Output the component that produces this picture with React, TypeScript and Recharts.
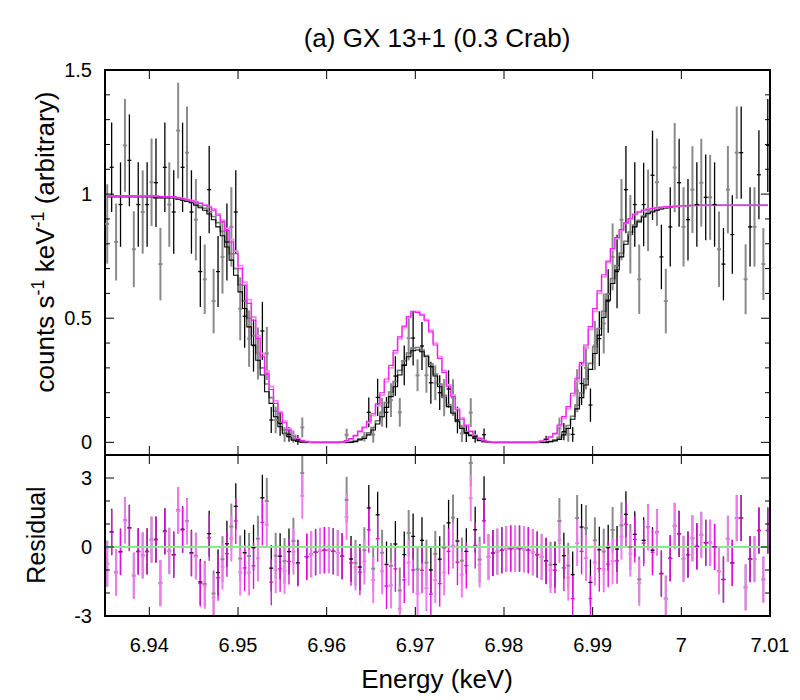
import React from 'react';
import { ComposedChart, Line, Scatter, XAxis, YAxis, ErrorBar, ReferenceLine, ReferenceArea } from 'recharts';

// ---------------- data ----------------
const energy = [
  6.93525, 6.93575, 6.93625, 6.93675, 6.93725, 6.93775, 6.93825, 6.93875, 6.93925, 6.93975,
  6.94025, 6.94075, 6.94125, 6.94175, 6.94225, 6.94275, 6.94325, 6.94375, 6.94425, 6.94475,
  6.94525, 6.94575, 6.94625, 6.94675, 6.94725, 6.94775, 6.94825, 6.94875, 6.94925, 6.94975,
  6.95025, 6.95075, 6.95125, 6.95175, 6.95225, 6.95275, 6.95325, 6.95375, 6.95425, 6.95475,
  6.95525, 6.95575, 6.95625, 6.95675, 6.95725, 6.95775, 6.95825, 6.95875, 6.95925, 6.95975,
  6.96025, 6.96075, 6.96125, 6.96175, 6.96225, 6.96275, 6.96325, 6.96375, 6.96425, 6.96475,
  6.96525, 6.96575, 6.96625, 6.96675, 6.96725, 6.96775, 6.96825, 6.96875, 6.96925, 6.96975,
  6.97025, 6.97075, 6.97125, 6.97175, 6.97225, 6.97275, 6.97325, 6.97375, 6.97425, 6.97475,
  6.97525, 6.97575, 6.97625, 6.97675, 6.97725, 6.97775, 6.97825, 6.97875, 6.97925, 6.97975,
  6.98025, 6.98075, 6.98125, 6.98175, 6.98225, 6.98275, 6.98325, 6.98375, 6.98425, 6.98475,
  6.98525, 6.98575, 6.98625, 6.98675, 6.98725, 6.98775, 6.98825, 6.98875, 6.98925, 6.98975,
  6.99025, 6.99075, 6.99125, 6.99175, 6.99225, 6.99275, 6.99325, 6.99375, 6.99425, 6.99475,
  6.99525, 6.99575, 6.99625, 6.99675, 6.99725, 6.99775, 6.99825, 6.99875, 6.99925, 6.99975,
  7.00025, 7.00075, 7.00125, 7.00175, 7.00225, 7.00275, 7.00325, 7.00375, 7.00425, 7.00475,
  7.00525, 7.00575, 7.00625, 7.00675, 7.00725, 7.00775, 7.00825, 7.00875, 7.00925, 7.00975,
];

const counts = [
  0.88, 1.108, 0.807, 0.958, 1.196, 1.136, 0.778, 0.958, 0.928, 0.958,
  1.048, 1.046, 0.718, 1.108, 0.958, 0.928, 1.256, 1.108, 1.167, 0.928,
  0.897, 0.688, 0.657, 1.018, 0.569, 0.688, 0.747, 0.807, 0.868, 0.928,
  0.538, 0.508, 0.418, 0.39, 0.358, 0.449, 0.358, 0.09, 0.09, 0.076,
  0.032, 0.032, 0.023, 0.01, 0.06, null, null, null, null, null,
  null, null, null, null, 0.03, null, null, null, 0.023, 0.121,
  0.031, 0.181, 0.121, 0.121, 0.17, 0.267, 0.121, 0.31, 0.42, 0.42,
  0.27, 0.388, 0.27, 0.24, 0.24, 0.2, 0.18, 0.215, 0.18, 0.09,
  0.036, 0.036, 0.12, 0.023, null, 0.031, null, null, null, null,
  null, null, null, null, null, null, null, null, null, 0.012,
  null, null, 0.056, 0.043, 0.032, 0.032, 0.208, 0.237, 0.3, 0.15,
  0.39, 0.418, 0.479, 0.569, 0.747, 0.688, 0.897, 1.018, 0.838, 0.958,
  0.657, 0.958, 0.935, 1.076, 1.048, 0.747, 0.569, 0.868, 1.107, 1.046,
  0.868, 0.897, 1.018, 0.958, 1.046, 0.987, 0.987, 0.958, 0.778, 0.718,
  1.018, 0.837, 1.167, 1.167, 0.657, 0.868, 0.868, 1.078, 0.718, 1.196,
];

const countErr = [
  0.16, 0.18, 0.155, 0.17, 0.187, 0.185, 0.153, 0.17, 0.168, 0.17,
  0.176, 0.178, 0.146, 0.18, 0.17, 0.168, 0.193, 0.18, 0.186, 0.168,
  0.164, 0.143, 0.14, 0.176, 0.13, 0.143, 0.148, 0.155, 0.16, 0.168,
  0.127, 0.127, 0.114, 0.105, 0.105, 0.117, 0.107, 0.052, 0.054, 0.05,
  0.03, 0.03, 0.025, 0.02, 0.04, null, null, null, null, null,
  null, null, null, null, 0.025, null, null, null, 0.02, 0.06,
  0.032, 0.075, 0.058, 0.062, 0.068, 0.08, 0.058, 0.08, 0.09, 0.11,
  0.064, 0.097, 0.07, 0.085, 0.07, 0.07, 0.075, 0.075, 0.074, 0.054,
  0.035, 0.035, 0.058, 0.025, null, 0.025, null, null, null, null,
  null, null, null, null, null, null, null, null, null, 0.015,
  null, null, 0.044, 0.035, 0.03, 0.03, 0.087, 0.087, 0.087, 0.067,
  0.099, 0.11, 0.121, 0.128, 0.135, 0.148, 0.164, 0.176, 0.158, 0.17,
  0.14, 0.168, 0.164, 0.18, 0.176, 0.13, 0.13, 0.16, 0.18, 0.177,
  0.16, 0.164, 0.175, 0.17, 0.177, 0.173, 0.171, 0.17, 0.152, 0.146,
  0.176, 0.158, 0.186, 0.186, 0.141, 0.16, 0.16, 0.179, 0.145, 0.187,
];

const modelBlack = [
  0.99, 0.99, 0.99, 0.99, 0.99, 0.99, 0.99, 0.99, 0.99, 0.99,
  0.99, 0.985, 0.985, 0.985, 0.985, 0.985, 0.98, 0.975, 0.97, 0.965,
  0.955, 0.945, 0.935, 0.92, 0.897, 0.868, 0.832, 0.787, 0.734, 0.673,
  0.606, 0.539, 0.465, 0.392, 0.331, 0.271, 0.204, 0.157, 0.103, 0.063,
  0.036, 0.023, 0.009, 0.004, 0.001, 0, 0, 0, 0, 0,
  0, 0, 0, 0, 0, 0, 0.003, 0.01, 0.016, 0.03,
  0.05, 0.074, 0.103, 0.141, 0.184, 0.224, 0.271, 0.311, 0.345, 0.369,
  0.372, 0.365, 0.345, 0.305, 0.267, 0.224, 0.181, 0.144, 0.117, 0.083,
  0.056, 0.039, 0.027, 0.016, 0.007, 0.003, 0, 0, 0, 0,
  0, 0, 0, 0, 0, 0, 0, 0, 0, 0,
  0.003, 0.006, 0.012, 0.03, 0.056, 0.093, 0.135, 0.18, 0.231, 0.294,
  0.358, 0.432, 0.503, 0.573, 0.64, 0.694, 0.747, 0.798, 0.837, 0.868,
  0.888, 0.908, 0.921, 0.928, 0.935, 0.94, 0.944, 0.947, 0.95, 0.951,
  0.952, 0.953, 0.954, 0.955, 0.955, 0.955, 0.955, 0.955, 0.955, 0.955,
  0.955, 0.955, 0.955, 0.955, 0.955, 0.955, 0.955, 0.955, 0.955, 0.955,
];

const modelGray = [
  0.99, 0.99, 0.99, 0.99, 0.99, 0.99, 0.99, 0.99, 0.99, 0.99,
  0.99, 0.987, 0.987, 0.987, 0.987, 0.987, 0.982, 0.977, 0.973, 0.968,
  0.96, 0.952, 0.943, 0.93, 0.91, 0.885, 0.85, 0.81, 0.76, 0.70,
  0.635, 0.57, 0.50, 0.43, 0.36, 0.30, 0.235, 0.18, 0.125, 0.08,
  0.05, 0.03, 0.015, 0.007, 0.002, 0, 0, 0, 0, 0,
  0, 0, 0, 0, 0, 0.003, 0.007, 0.014, 0.022, 0.038,
  0.06, 0.087, 0.12, 0.16, 0.203, 0.245, 0.29, 0.328, 0.36, 0.38,
  0.382, 0.372, 0.35, 0.315, 0.275, 0.235, 0.19, 0.152, 0.122, 0.09,
  0.062, 0.043, 0.03, 0.018, 0.009, 0.004, 0.001, 0, 0, 0,
  0, 0, 0, 0, 0, 0, 0, 0, 0, 0,
  0.004, 0.01, 0.02, 0.04, 0.068, 0.105, 0.15, 0.2, 0.255, 0.318,
  0.385, 0.458, 0.528, 0.597, 0.66, 0.712, 0.763, 0.81, 0.847, 0.875,
  0.895, 0.912, 0.924, 0.931, 0.937, 0.942, 0.945, 0.948, 0.95, 0.951,
  0.952, 0.953, 0.954, 0.955, 0.955, 0.955, 0.955, 0.955, 0.955, 0.955,
  0.955, 0.955, 0.955, 0.955, 0.955, 0.955, 0.955, 0.955, 0.955, 0.955,
];

const modelMagenta = [
  0.993, 0.993, 0.993, 0.993, 0.993, 0.993, 0.993, 0.993, 0.993, 0.993,
  0.993, 0.993, 0.99, 0.99, 0.99, 0.99, 0.985, 0.982, 0.977, 0.973,
  0.968, 0.962, 0.955, 0.948, 0.935, 0.915, 0.888, 0.854, 0.807, 0.76,
  0.70, 0.633, 0.56, 0.492, 0.418, 0.345, 0.275, 0.213, 0.157, 0.117,
  0.079, 0.05, 0.025, 0.013, 0.007, 0.003, 0.001, 0, 0, 0,
  0, 0, 0, 0.003, 0.007, 0.015, 0.028, 0.045, 0.062, 0.085,
  0.115, 0.155, 0.2, 0.255, 0.31, 0.37, 0.425, 0.468, 0.506, 0.526,
  0.523, 0.512, 0.49, 0.445, 0.392, 0.338, 0.282, 0.224, 0.184, 0.13,
  0.093, 0.066, 0.043, 0.027, 0.016, 0.007, 0.003, 0, 0, 0,
  0, 0, 0, 0, 0, 0, 0, 0.002, 0.005, 0.012,
  0.022, 0.036, 0.07, 0.104, 0.144, 0.198, 0.258, 0.321, 0.392, 0.466,
  0.539, 0.61, 0.675, 0.73, 0.781, 0.825, 0.857, 0.884, 0.901, 0.919,
  0.928, 0.935, 0.939, 0.942, 0.945, 0.947, 0.949, 0.95, 0.951, 0.952,
  0.953, 0.954, 0.955, 0.955, 0.955, 0.955, 0.955, 0.955, 0.955, 0.955,
  0.955, 0.955, 0.955, 0.955, 0.955, 0.955, 0.955, 0.955, 0.955, 0.955,
];

const modelPink = [
  0.993, 0.993, 0.993, 0.993, 0.993, 0.993, 0.993, 0.993, 0.993, 0.993,
  0.993, 0.993, 0.991, 0.99, 0.99, 0.989, 0.986, 0.983, 0.979, 0.975,
  0.97, 0.965, 0.958, 0.95, 0.94, 0.92, 0.895, 0.862, 0.818, 0.77,
  0.712, 0.645, 0.575, 0.505, 0.43, 0.358, 0.288, 0.225, 0.167, 0.124,
  0.085, 0.055, 0.029, 0.015, 0.008, 0.004, 0.001, 0, 0, 0,
  0, 0, 0, 0.002, 0.006, 0.013, 0.025, 0.042, 0.058, 0.08,
  0.108, 0.147, 0.19, 0.245, 0.3, 0.36, 0.417, 0.462, 0.503, 0.528,
  0.528, 0.516, 0.495, 0.452, 0.4, 0.345, 0.29, 0.232, 0.19, 0.136,
  0.098, 0.07, 0.046, 0.029, 0.017, 0.008, 0.003, 0.001, 0, 0,
  0, 0, 0, 0, 0, 0, 0, 0.002, 0.005, 0.011,
  0.02, 0.033, 0.064, 0.097, 0.136, 0.188, 0.246, 0.31, 0.38, 0.455,
  0.528, 0.6, 0.667, 0.724, 0.776, 0.821, 0.855, 0.882, 0.9, 0.918,
  0.927, 0.934, 0.939, 0.942, 0.945, 0.947, 0.949, 0.95, 0.951, 0.952,
  0.953, 0.954, 0.955, 0.955, 0.955, 0.955, 0.955, 0.955, 0.955, 0.955,
  0.955, 0.955, 0.955, 0.955, 0.955, 0.955, 0.955, 0.955, 0.955, 0.955,
];

// residuals (data - model) / error, against the black/gray and magenta/pink models
const residDark = [
  -0.72, 0.66, -1.1, -0.2, 1.17, 0.84, -1.24, -0.19, -0.36, -0.19,
  0.33, 0.33, -1.56, 0.69, -0.16, -0.33, 1.6, 0.77, 1.13, -0.25,
  -0.38, -1.52, -1.6, 0.58, -2.02, -1.11, -0.53, 0.14, 0.89, 1.77,
  -0.5, -0.25, -0.39, -0.03, 0.36, 2.14, 2.0, -0.92, -0.38, -0.4,
  -0.61, -0.2, 0.27, -0.69, 3.22, -0.42, -0.32, -0.23, -0.17, -0.14,
  -0.14, -0.19, -0.26, -0.4, 2.05, -0.52, -0.69, -0.87, -0.14, 1.7,
  -0.94, 1.4, -0.25, -0.76, -0.82, 0.13, -1.89, -0.33, 0.61, 0.46,
  -0.97, 0.29, -0.68, -1.0, -0.3, -0.53, -0.03, 1.05, 1.28, 0.26,
  -0.59, -0.19, 3.65, 0.75, -0.55, 2.08, -0.43, -0.26, -0.2, -0.14,
  -0.09, -0.07, -0.07, -0.07, -0.1, -0.14, -0.23, -0.33, -0.43, -0.6,
  -0.77, -0.76, 1.13, -0.38, -0.81, -1.2, 1.26, 0.87, 0.82, -1.54,
  0.29, -0.12, -0.2, -0.03, 0.74, -0.09, 0.94, 1.42, 0.0, 0.55,
  -1.41, 0.29, 0.87, -0.14, 0.65, -1.15, -2.24, -0.49, 0.92, 0.58,
  -0.51, -0.33, 0.38, 0.03, 0.53, 0.19, 0.19, 0.01, -1.05, -1.41,
  0.36, -0.69, 1.26, 1.26, -1.75, -0.52, -0.52, 0.72, -1.41, 0.72,
];

const residColor = [
  -0.74, 0.64, -1.12, -0.22, 1.15, 0.82, -1.26, -0.21, -0.38, -0.21,
  0.31, 0.31, -1.58, 0.67, -0.18, -0.35, 1.57, 0.74, 1.1, -0.28,
  -0.42, -1.59, -1.69, 0.4, -2.19, -1.34, -0.85, -0.29, 0.37, 1.13,
  -1.11, -0.91, -1.11, -0.82, -0.49, 1.07, 0.97, -1.53, -1.01, -0.95,
  -1.04, -0.63, -0.2, -0.72, 2.22, -0.42, -0.32, -0.23, -0.17, -0.14,
  -0.14, -0.19, -0.26, -0.4, 1.31, -0.69, -0.89, -1.1, -0.63, 0.75,
  -1.44, 0.36, -1.05, -1.7, -1.67, -0.95, -2.68, -1.43, -0.68, -1.0,
  -2.03, -1.01, -1.79, -2.05, -1.44, -1.59, -1.11, -0.19, 0.06, -0.66,
  -1.2, -0.81, 2.12, 0.07, -0.76, 1.14, -0.43, -0.26, -0.2, -0.14,
  -0.09, -0.07, -0.07, -0.07, -0.1, -0.14, -0.23, -0.33, -0.43, -0.62,
  -1.0, -1.01, 0.3, -0.91, -1.33, -2.24, 0.17, -0.19, -0.48, -2.24,
  -0.68, -0.94, -0.97, -0.75, -0.62, -0.6, 0.45, 0.99, -0.29, 0.33,
  -1.56, 0.17, 0.84, -0.23, 0.62, -1.17, -2.26, -0.5, 0.9, 0.57,
  -0.52, -0.34, 0.37, 0.02, 0.52, 0.18, 0.18, 0.0, -1.06, -1.42,
  0.35, -0.7, 1.25, 1.25, -1.76, -0.53, -0.53, 0.71, -1.42, 0.71,
];
const residErr = 1;

const xTicks = [6.94, 6.95, 6.96, 6.97, 6.98, 6.99, 7.0, 7.01];
const topYTicks = [0, 0.1, 0.2, 0.3, 0.4, 0.5, 0.6, 0.7, 0.8, 0.9, 1, 1.1, 1.2, 1.3, 1.4, 1.5];
const topYLabels = [0, 0.5, 1, 1.5];
const resYTicks = [-3, -2, -1, 0, 1, 2, 3];
const resYLabels = [-3, 0, 3];

const X_DOMAIN = [6.935, 7.01];
const TOP_DOMAIN = [-0.051, 1.5];
const RES_DOMAIN = [-3, 4];

// ---------------- layout ----------------
const W = 800, H = 700;
const L = 105, R = 770, T = 70, M = 455, B = 616;
const FONT = '"Liberation Sans", Arial, Helvetica, sans-serif';

const modelRows = energy.map((e, i) => ({
  e, mB: modelBlack[i], mG: modelGray[i], mM: modelMagenta[i], mP: modelPink[i],
}));

const pick = (vals: any[], errs: any, parity: number) =>
  energy
    .map((e, i) => ({ e, v: vals[i], err: typeof errs === 'number' ? errs : errs[i], i }))
    .filter((d) => d.i % 2 === parity && d.v !== null && d.v !== undefined);

const grayPts = pick(counts, countErr, 0);
const blackPts = pick(counts, countErr, 1);
const resGray = pick(residDark, residErr, 0);
const resBlack = pick(residDark, residErr, 1);
const resPink = pick(residColor, residErr, 0);
const resMag = pick(residColor, residErr, 1);

const cross = (color: string, w: number) => (p: any) => (
  <line x1={p.cx - 2} x2={p.cx + 2} y1={p.cy} y2={p.cy} stroke={color} strokeWidth={w} />
);

const TopXTick = (p: any) => (
  <g>
    <line x1={p.x} x2={p.x} y1={M} y2={M - 9} stroke="#000" strokeWidth={1} />
    <line x1={p.x} x2={p.x} y1={T} y2={T + 9} stroke="#000" strokeWidth={1} />
  </g>
);

const BotXTick = (p: any) => (
  <g>
    <line x1={p.x} x2={p.x} y1={B} y2={B - 9} stroke="#000" strokeWidth={1} />
    <line x1={p.x} x2={p.x} y1={M} y2={M + 9} stroke="#000" strokeWidth={1} />
    <text x={p.x} y={B + 36} textAnchor="middle" fontSize={20} fontFamily={FONT} fill="#000">
      {String(p.payload.value)}
    </text>
  </g>
);

const makeYTick = (labels: number[]) => (p: any) => {
  const v = p.payload.value;
  const major = labels.includes(v);
  const len = major ? 9 : 5;
  return (
    <g>
      <line x1={L} x2={L + len} y1={p.y} y2={p.y} stroke="#000" strokeWidth={1} />
      <line x1={R} x2={R - len} y1={p.y} y2={p.y} stroke="#000" strokeWidth={1} />
      {major && (
        <text x={L - 13} y={p.y + 7} textAnchor="end" fontSize={20} fontFamily={FONT} fill="#000">
          {String(v)}
        </text>
      )}
    </g>
  );
};
const TopYTick = makeYTick(topYLabels);
const ResYTick = makeYTick(resYLabels);

const layer: React.CSSProperties = { position: 'absolute', left: 0, top: 0 };
const resClip: React.CSSProperties = { ...layer, clipPath: `inset(${M}px ${W - R}px ${H - B}px ${L}px)` };

export default function App() {
  return (
    <div style={{ position: 'absolute', left: 0, top: 0, width: W, height: H, background: '#fff' }}>
      {/* top panel: spectra and models */}
      <div style={layer}>
        <ComposedChart width={W} height={H} data={modelRows} margin={{ top: T, right: W - R, bottom: H - M - 1, left: L - 1 }}>
          <XAxis type="number" dataKey="e" domain={X_DOMAIN} ticks={xTicks} interval={0} allowDataOverflow
            height={1} tickSize={0} tickMargin={0} axisLine={false} tickLine={false} tick={TopXTick} />
          <YAxis type="number" domain={TOP_DOMAIN} ticks={topYTicks} interval={0} allowDataOverflow
            width={1} tickSize={0} tickMargin={0} axisLine={false} tickLine={false} tick={TopYTick} />
          <Scatter data={grayPts} dataKey="v" isAnimationActive={false} shape={cross('#8a8a8a', 2)}>
            <ErrorBar dataKey="err" direction="y" width={0} stroke="#8a8a8a" strokeWidth={2} />
          </Scatter>
          <Scatter data={blackPts} dataKey="v" isAnimationActive={false} shape={cross('#000', 1.3)}>
            <ErrorBar dataKey="err" direction="y" width={0} stroke="#000" strokeWidth={1.3} />
          </Scatter>
          <Line type="step" dataKey="mG" stroke="#7a7a7a" strokeWidth={1.6} dot={false} isAnimationActive={false} />
          <Line type="step" dataKey="mB" stroke="#000" strokeWidth={1.1} dot={false} isAnimationActive={false} />
          <Line type="step" dataKey="mP" stroke="#f58cf5" strokeWidth={1.8} dot={false} isAnimationActive={false} />
          <Line type="step" dataKey="mM" stroke="#f01cf0" strokeWidth={1.1} dot={false} isAnimationActive={false} />
          <ReferenceArea x1={X_DOMAIN[0]} x2={X_DOMAIN[1]} y1={TOP_DOMAIN[0]} y2={TOP_DOMAIN[1]}
            fill="none" fillOpacity={0} stroke="#000" strokeWidth={2} ifOverflow="visible" />
        </ComposedChart>
      </div>
      {/* bottom panel: residual points, clipped to the plot box */}
      <div style={resClip}>
        <ComposedChart width={W} height={H} margin={{ top: M, right: W - R, bottom: H - B, left: L }}>
          <XAxis type="number" dataKey="e" domain={X_DOMAIN} allowDataOverflow hide />
          <YAxis type="number" domain={RES_DOMAIN} allowDataOverflow hide />
          <Scatter data={resGray} dataKey="v" isAnimationActive={false} shape={cross('#8a8a8a', 2)}>
            <ErrorBar dataKey="err" direction="y" width={0} stroke="#8a8a8a" strokeWidth={2} />
          </Scatter>
          <Scatter data={resBlack} dataKey="v" isAnimationActive={false} shape={cross('#000', 1.3)}>
            <ErrorBar dataKey="err" direction="y" width={0} stroke="#000" strokeWidth={1.3} />
          </Scatter>
          <Scatter data={resPink} dataKey="v" isAnimationActive={false} shape={cross('#f07cf0', 2)}>
            <ErrorBar dataKey="err" direction="y" width={0} stroke="#f07cf0" strokeWidth={2} />
          </Scatter>
          <Scatter data={resMag} dataKey="v" isAnimationActive={false} shape={cross('#e010e0', 1.4)}>
            <ErrorBar dataKey="err" direction="y" width={0} stroke="#e010e0" strokeWidth={1.4} />
          </Scatter>
          <ReferenceLine y={0} stroke="#8ee68e" strokeWidth={2} ifOverflow="hidden" />
        </ComposedChart>
      </div>
      {/* bottom panel: frame, ticks and tick labels */}
      <div style={layer}>
        <ComposedChart width={W} height={H} margin={{ top: M, right: W - R, bottom: H - B - 1, left: L - 1 }}>
          <XAxis type="number" dataKey="e" domain={X_DOMAIN} ticks={xTicks} interval={0} allowDataOverflow
            height={1} tickSize={0} tickMargin={0} axisLine={false} tickLine={false} tick={BotXTick} />
          <YAxis type="number" domain={RES_DOMAIN} ticks={resYTicks} interval={0} allowDataOverflow
            width={1} tickSize={0} tickMargin={0} axisLine={false} tickLine={false} tick={ResYTick} />
          <ReferenceArea x1={X_DOMAIN[0]} x2={X_DOMAIN[1]} y1={RES_DOMAIN[0]} y2={RES_DOMAIN[1]}
            fill="none" fillOpacity={0} stroke="#000" strokeWidth={2} ifOverflow="visible" />
        </ComposedChart>
      </div>
      <svg width={W} height={H} style={{ ...layer, pointerEvents: 'none' }}>
        <text x={437} y={47} textAnchor="middle" fontSize={26} fontFamily={FONT} fill="#000">
          (a) GX 13+1 (0.3 Crab)
        </text>
        <text transform="translate(54,242) rotate(-90)" textAnchor="middle" fontSize={26} fontFamily={FONT} fill="#000">
          <tspan>counts s</tspan>
          <tspan dy={-10} fontSize={18}>-1</tspan>
          <tspan dy={10}> keV</tspan>
          <tspan dy={-10} fontSize={18}>-1</tspan>
          <tspan dy={10}> (arbitrary)</tspan>
        </text>
        <text transform="translate(45,535) rotate(-90)" textAnchor="middle" fontSize={25} fontFamily={FONT} fill="#000">
          Residual
        </text>
        <text x={437} y={688} textAnchor="middle" fontSize={26} fontFamily={FONT} fill="#000">
          Energy (keV)
        </text>
      </svg>
    </div>
  );
}
